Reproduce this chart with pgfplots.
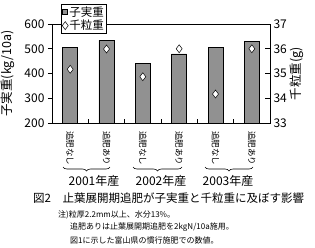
\documentclass[border=0pt]{standalone}
\usepackage{pgfplots}
\pgfplotsset{compat=1.18}
\usepackage{fontspec}
\setmainfont{Noto Sans CJK JP}
\usetikzlibrary{decorations.pathreplacing}
\definecolor{bargray}{RGB}{145,145,145}
\pgfplotsset{
  diamondlegend/.style={legend image code/.code={\draw[##1] plot coordinates {(2.5pt,0pt)};}},
  barlegend/.style={legend image code/.code={\draw[draw=black, fill=bargray, line width=0.5pt] (0pt,-2.5pt) rectangle (5pt,2.5pt);}},
}
\begin{document}
\begin{tikzpicture}[x=1pt,y=1pt]
\path[use as bounding box] (0,0) rectangle (315,247);
\begin{axis}[
  at={(52pt,124pt)}, anchor=south west,
  width=218pt, height=99pt, scale only axis, clip=false,
  xmin=0.5, xmax=6.5, ymin=200, ymax=600,
  ytick={200,300,400,500,600}, ytick pos=left,
  xtick={1.5,2.5,3.5,4.5,5.5}, xticklabels={}, xtick pos=bottom,
  tick align=outside, major tick length=4pt,
  x tick style={yshift=4pt},
  /pgf/number format/assume math mode=true,
  tick label style={font=\fontsize{12}{14}\selectfont},
  ylabel={子実重(kg/10a)},
  ylabel style={at={(axis description cs:-0.202,0.5)}, anchor=center, font=\fontsize{12.5}{14}\selectfont},
  axis line style={black, line width=0.6pt},
  tick style={black, line width=0.6pt},
]
\addplot[ybar, bar width=15pt, draw=black, fill=bargray, line width=0.5pt] coordinates {(1,507) (2,534) (3,442) (4,479) (5,506) (6,530)};
\path (axis cs:1,200) ++(0pt,-8pt) node[rotate=-90, anchor=west, inner sep=0pt, font=\fontsize{8.5}{10}\selectfont] {追肥なし};
\path (axis cs:2,200) ++(0pt,-8pt) node[rotate=-90, anchor=west, inner sep=0pt, font=\fontsize{8.5}{10}\selectfont] {追肥あり};
\path (axis cs:3,200) ++(0pt,-8pt) node[rotate=-90, anchor=west, inner sep=0pt, font=\fontsize{8.5}{10}\selectfont] {追肥なし};
\path (axis cs:4,200) ++(0pt,-8pt) node[rotate=-90, anchor=west, inner sep=0pt, font=\fontsize{8.5}{10}\selectfont] {追肥あり};
\path (axis cs:5,200) ++(0pt,-8pt) node[rotate=-90, anchor=west, inner sep=0pt, font=\fontsize{8.5}{10}\selectfont] {追肥なし};
\path (axis cs:6,200) ++(0pt,-8pt) node[rotate=-90, anchor=west, inner sep=0pt, font=\fontsize{8.5}{10}\selectfont] {追肥あり};
\end{axis}
\begin{axis}[
  at={(52pt,124pt)}, anchor=south west,
  width=218pt, height=99pt, scale only axis,
  xmin=0.5, xmax=6.5, ymin=33, ymax=37,
  axis x line=none, axis y line*=right,
  ytick={33,34,35,36,37},
  tick align=inside, major tick length=5pt,
  /pgf/number format/assume math mode=true,
  tick label style={font=\fontsize{12}{14}\selectfont},
  ylabel={千粒重(g)},
  ylabel style={at={(axis description cs:1.124,0.5)}, anchor=center, font=\fontsize{12.5}{14}\selectfont},
  axis line style={black, line width=0.6pt},
  tick style={black, line width=0.6pt},
  legend style={at={(0.041,1.202)}, anchor=north west, draw=black, fill=white, line width=0.6pt,
    font=\fontsize{11.5}{13}\selectfont, inner sep=1pt, row sep=0pt,
    nodes={inner sep=1.2pt}},
  legend cell align=left,
]
\addlegendimage{barlegend}
\addlegendentry{子実重}
\addplot[only marks, mark=diamond*, mark size=4pt, mark options={fill=white, draw=black, line width=0.5pt}, diamondlegend]
  coordinates {(1,35.17) (2,35.99) (3,34.87) (4,36.0) (5,34.17) (6,36.0)};
\addlegendentry{千粒重}
\end{axis}
% braces and group labels
\draw[decorate, decoration={brace, mirror, amplitude=4pt}, line width=0.6pt] (63,80) -- (110,80);
\draw[decorate, decoration={brace, mirror, amplitude=4pt}, line width=0.6pt] (133,80) -- (182,80);
\draw[decorate, decoration={brace, mirror, amplitude=4pt}, line width=0.6pt] (205,80) -- (253,80);
\node[font=\fontsize{12}{14}\selectfont, inner sep=0pt] at (94,66.5) {2001年産};
\node[font=\fontsize{12}{14}\selectfont, inner sep=0pt] at (161,66.5) {2002年産};
\node[font=\fontsize{12}{14}\selectfont, inner sep=0pt] at (228,66.5) {2003年産};
% caption and notes
\node[anchor=west, font=\fontsize{11.5}{13}\selectfont, inner sep=0pt] at (33,49) {図2　止葉展開期追肥が子実重と千粒重に及ぼす影響};
\node[anchor=west, font=\fontsize{8}{9}\selectfont, inner sep=0pt] at (58,32) {注)粒厚2.2mm以上、水分13\%。};
\node[anchor=west, font=\fontsize{8}{9}\selectfont, inner sep=0pt] at (70,19.5) {追肥ありは止葉展開期追肥を2kgN/10a施用。};
\node[anchor=west, font=\fontsize{8}{9}\selectfont, inner sep=0pt] at (70,7) {図1に示した富山県の慣行施肥での数値。};
\end{tikzpicture}
\end{document}
